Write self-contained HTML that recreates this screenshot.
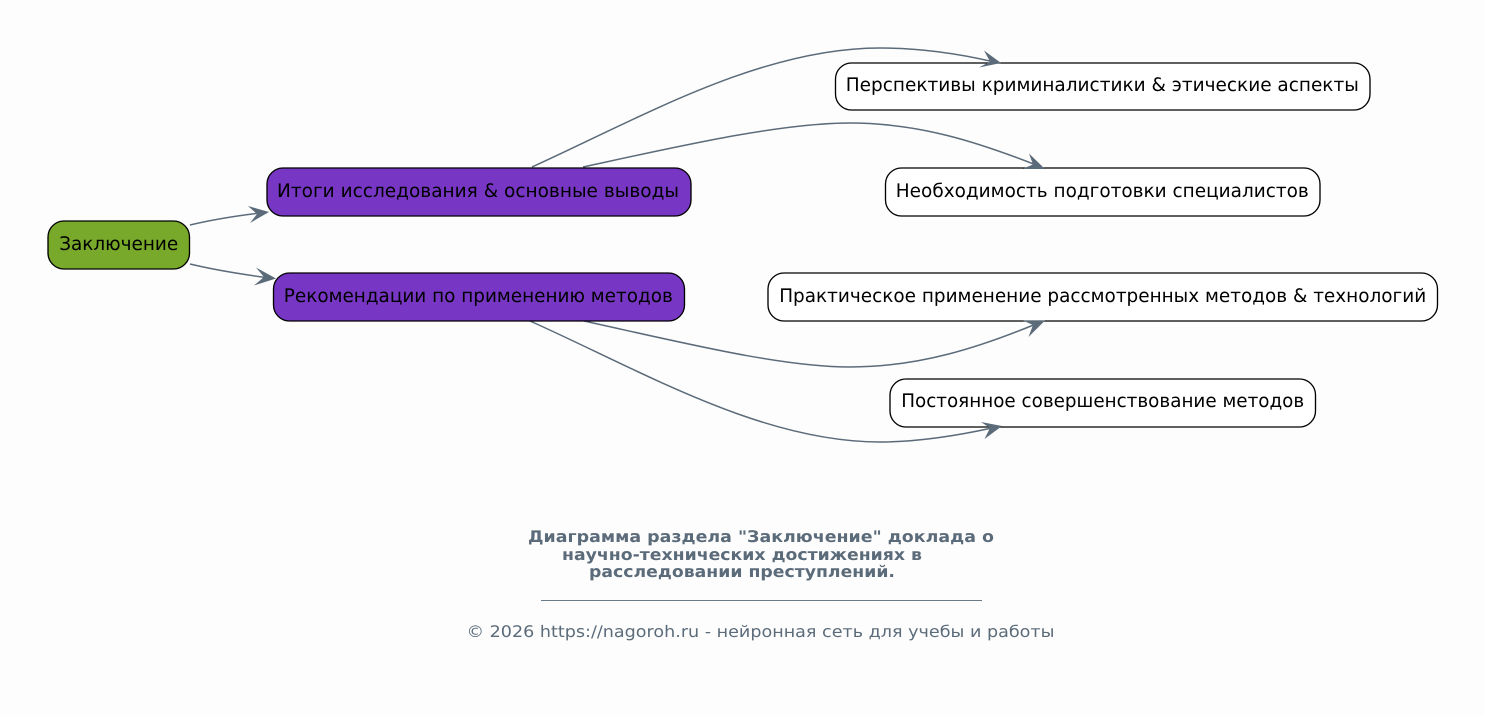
<!DOCTYPE html>
<html><head><meta charset="utf-8">
<style>
html,body{margin:0;padding:0;background:#fdfdfd}
svg{display:block}
text{font-family:"DejaVu Sans",sans-serif;text-rendering:geometricPrecision}
.n{font-size:18.67px;fill:#000;text-anchor:middle}
.b{stroke:#000;stroke-width:1.33}
.c{fill:none;stroke:#5b6b7a;stroke-width:1.5}
.a{fill:#5b6b7a;stroke:none}
.t{font-size:16px;font-weight:bold;fill:#5b6b7a;text-anchor:middle}
</style></head>
<body>
<svg width="1485" height="715" viewBox="0 0 1485 715" xmlns="http://www.w3.org/2000/svg">
<rect width="1485" height="715" fill="#fdfdfd"/>
<path class="c" d="M190 225C215 219 235 216 260 213"/>
<path class="c" d="M190 264C215 270 240 274 266 277.500"/>
<path class="c" d="M532 167C640 118 760 48 880 48C920 48 960 54 992 61.500"/>
<path class="c" d="M583 167C680 146 780 123 850 123C920 123 980 143 1036 165"/>
<path class="c" d="M584 321C680 342 780 367 850 367C920 367 980 347 1036 324"/>
<path class="c" d="M530 321C640 370 760 442 880 442C920 442 960 435 992 428"/>
<rect class="b" x="48" y="221" width="141.500" height="48" rx="16" fill="#78a92a"/>
<rect class="b" x="267" y="168" width="424" height="48" rx="16" fill="#7737c4"/>
<rect class="b" x="273.500" y="273" width="411" height="48" rx="16" fill="#7737c4"/>
<rect class="b" x="835.500" y="63" width="534.500" height="47" rx="16" fill="#fff"/>
<rect class="b" x="885.500" y="168" width="434.500" height="48" rx="16" fill="#fff"/>
<rect class="b" x="768" y="273" width="669.500" height="48" rx="16" fill="#fff"/>
<rect class="b" x="890" y="379" width="425.500" height="48" rx="16" fill="#fff"/>
<polygon class="a" points="269,212 248,206 257,214 250,223"/>
<polygon class="a" points="276,278.500 256,267.500 264,277 254,285.500"/>
<polygon class="a" points="1001,63 984,50.500 990,61.500 979,67.500"/>
<polygon class="a" points="1045,169 1029,153.500 1033,164.500 1022,169"/>
<polygon class="a" points="1045,320.500 1023,320.500 1033,325 1028.500,337"/>
<polygon class="a" points="1002,426 981,422 990,428 984.500,439"/>
<text class="n" x="118.700" y="250" textLength="119" lengthAdjust="spacingAndGlyphs">Заключение</text>
<text class="n" x="478" y="197" textLength="402" lengthAdjust="spacingAndGlyphs">Итоги исследования &amp; основные выводы</text>
<text class="n" x="478.300" y="302" textLength="389" lengthAdjust="spacingAndGlyphs">Рекомендации по применению методов</text>
<text class="n" x="1102.300" y="91" textLength="513" lengthAdjust="spacingAndGlyphs">Перспективы криминалистики &amp; этические аспекты</text>
<text class="n" x="1102.300" y="197" textLength="413" lengthAdjust="spacingAndGlyphs">Необходимость подготовки специалистов</text>
<text class="n" x="1102.700" y="302" textLength="647" lengthAdjust="spacingAndGlyphs">Практическое применение рассмотренных методов &amp; технологий</text>
<text class="n" x="1102.700" y="407" textLength="403" lengthAdjust="spacingAndGlyphs">Постоянное совершенствование методов</text>
<text class="t" x="761" y="542" textLength="466" lengthAdjust="spacingAndGlyphs">Диаграмма раздела "Заключение" доклада о</text>
<text class="t" x="742" y="560" textLength="360" lengthAdjust="spacingAndGlyphs">научно-технических достижениях в</text>
<text class="t" x="742" y="577" textLength="306" lengthAdjust="spacingAndGlyphs">расследовании преступлений.</text>
<rect x="541" y="600" width="441" height="1" fill="#6b7a88"/>
<text x="760.500" y="637" font-size="16" fill="#5b6b7a" text-anchor="middle" textLength="588" lengthAdjust="spacingAndGlyphs">© 2026 https://nagoroh.ru - нейронная сеть для учебы и работы</text>
</svg>
</body></html>
